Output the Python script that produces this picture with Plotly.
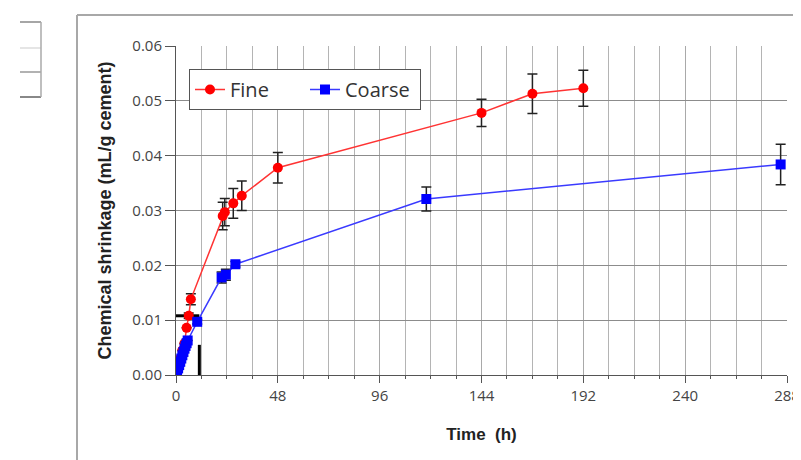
import plotly.graph_objects as go

# ---- data ----
fine_t = [0, 1, 2, 3, 4, 5, 6, 7, 22, 23, 27, 31, 48, 144, 168, 192]
fine_v = [0, 0.0015, 0.003, 0.0045, 0.0058, 0.0086, 0.0108, 0.0138, 0.029, 0.0297,
          0.0313, 0.0327, 0.0378, 0.0478, 0.0513, 0.0523]
fine_err = [0, 0, 0, 0, 0, 0, 0.0005, 0.001, 0.0025, 0.0025, 0.0027, 0.0027,
            0.0028, 0.0025, 0.0036, 0.0033]

coarse_t = [0, 0.5, 1, 1.5, 2, 2.5, 3, 3.5, 4, 4.5, 5, 5.5, 10, 21.5, 23.5, 28, 118, 285]
coarse_v = [0, 0.0006, 0.0012, 0.0018, 0.0024, 0.003, 0.0036, 0.0042, 0.0048, 0.0053,
            0.0058, 0.0063, 0.0097, 0.0178, 0.0183, 0.0202, 0.0321, 0.0384]
coarse_err = [0, 0, 0, 0, 0, 0, 0, 0, 0, 0, 0, 0, 0.0004, 0.001, 0.001, 0.0005, 0.0022, 0.0037]

# stray black bars seen near the origin
stray_h_t = [0, 11]
stray_h_v = [0.0108, 0.0108]
stray_v_t = [11, 11]
stray_v_v = [0, 0.0055]

x_ticks = [0, 48, 96, 144, 192, 240, 288]
y_ticks = [0, 0.01, 0.02, 0.03, 0.04, 0.05, 0.06]

FONT = "Open Sans, DejaVu Sans, sans-serif"
TITLE_FONT = "Liberation Sans, Arial, sans-serif"

fig = go.Figure()

fig.add_trace(go.Scatter(x=stray_h_t, y=stray_h_v, mode="lines",
                         line=dict(color="black", width=3), showlegend=False,
                         hoverinfo="skip"))
fig.add_trace(go.Scatter(x=stray_v_t, y=stray_v_v, mode="lines",
                         line=dict(color="black", width=3), showlegend=False,
                         hoverinfo="skip"))

fig.add_trace(go.Scatter(
    x=fine_t, y=fine_v, name="Fine", mode="lines+markers",
    line=dict(color="#ff3333", width=1.5),
    marker=dict(color="#ff0000", size=10, symbol="circle"),
    error_y=dict(type="data", array=fine_err, color="#222", thickness=1.5, width=5),
))
fig.add_trace(go.Scatter(
    x=coarse_t, y=coarse_v, name="Coarse", mode="lines+markers",
    line=dict(color="#3a3aff", width=1.5),
    marker=dict(color="#0000ff", size=10, symbol="square"),
    error_y=dict(type="data", array=coarse_err, color="#222", thickness=1.5, width=5),
))

# page has an 8px body margin; work in page pixels and convert
OFF = 8
W, H = 801 - OFF, 460 - OFF
L, R, T, B = 176, 787, 46, 375  # plot area in page pixels
def px(x):
    return (x - L) / (R - L)
def py(y):
    return (B - y) / (B - T)

shapes = [
    # outer frame
    dict(type="line", xref="paper", yref="paper", x0=px(77), x1=px(77), y0=py(15), y1=py(470),
         line=dict(color="#a8a8a8", width=2)),
    dict(type="line", xref="paper", yref="paper", x0=px(77), x1=px(805), y0=py(15), y1=py(15),
         line=dict(color="#a8a8a8", width=2)),
    # left fragment
    dict(type="line", xref="paper", yref="paper", x0=px(20), x1=px(41), y0=py(22), y1=py(22),
         line=dict(color="#888", width=1.5)),
    dict(type="line", xref="paper", yref="paper", x0=px(20), x1=px(41), y0=py(48), y1=py(48),
         line=dict(color="#ddd", width=1.5)),
    dict(type="line", xref="paper", yref="paper", x0=px(20), x1=px(41), y0=py(72), y1=py(72),
         line=dict(color="#999", width=1.5)),
    dict(type="line", xref="paper", yref="paper", x0=px(20), x1=px(41), y0=py(97), y1=py(97),
         line=dict(color="#888", width=2)),
    dict(type="line", xref="paper", yref="paper", x0=px(41), x1=px(41), y0=py(22), y1=py(97),
         line=dict(color="#aaa", width=1.5)),
]

fig.update_layout(
    width=W, height=H,
    margin=dict(l=L - OFF, r=W - (R - OFF), t=T - OFF, b=H - (B - OFF), autoexpand=False),
    paper_bgcolor="white", plot_bgcolor="white",
    font=dict(family=FONT, color="#444"),
    shapes=shapes,
    legend=dict(x=px(189), y=py(69), xanchor="left", yanchor="top",
                orientation="h", bgcolor="white", bordercolor="#555", borderwidth=1,
                font=dict(size=20, color="#333", family=FONT),
                entrywidth=70, entrywidthmode="pixels",
                tracegroupgap=0),
    xaxis=dict(range=[0, 288], tickvals=x_ticks, ticktext=[str(v) for v in x_ticks],
               automargin=False,
               showgrid=True, gridcolor="#a9a9a9", gridwidth=1,
               minor=dict(dtick=12, showgrid=True, gridcolor="#b4b4b4", gridwidth=1,
                          ticks="outside", ticklen=3, tickcolor="#555"),
               ticks="outside", ticklen=7, tickcolor="#555",
               showline=True, linecolor="#555", linewidth=1, zeroline=False,
               tickfont=dict(size=15, color="#444"),
               title=dict(text="<b>Time  (h)</b>", font=dict(size=17, color="#222",
                                                              family=TITLE_FONT), standoff=24)),
    yaxis=dict(range=[0, 0.06], tickvals=y_ticks, ticktext=["%.2f" % v for v in y_ticks],
               automargin=False,
               showgrid=True, gridcolor="#8c8c8c", gridwidth=1,
               ticks="outside", ticklen=10, tickcolor="#555",
               showline=True, linecolor="#555", linewidth=1, zeroline=False,
               tickfont=dict(size=15, color="#444"),
               title=dict(text="<b>Chemical shrinkage (mL/g cement)</b>",
                          font=dict(size=18, color="#222", family=TITLE_FONT), standoff=16)),
)

fig.write_html("out.html")
